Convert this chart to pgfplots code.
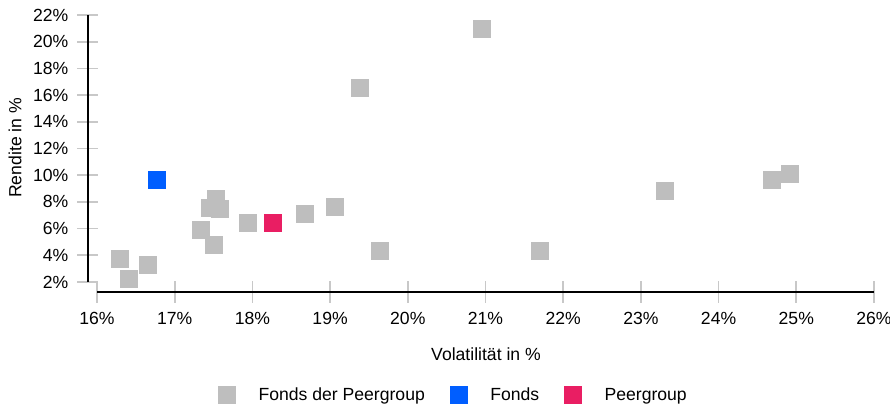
\documentclass[border=0pt]{standalone}
\usepackage{fontspec}
\setmainfont{Liberation Sans}
\usepackage{pgfplots}
\pgfplotsset{compat=1.18}
\definecolor{gfill}{RGB}{190,190,190}
\definecolor{fblue}{RGB}{0,94,255}
\definecolor{fpink}{RGB}{233,30,99}
\definecolor{tickgray}{RGB}{200,200,200}
\begin{document}
\fontsize{17.6bp}{21bp}\selectfont
\begin{tikzpicture}
\begin{axis}[
  scale only axis, width=786bp, height=277bp,
  xmin=15.884, xmax=26, ymin=1.251, ymax=22,
  clip=false,
  axis line style={draw=none},
  xtick={16,17,18,19,20,21,22,23,24,25,26},
  xticklabels={16\%,17\%,18\%,19\%,20\%,21\%,22\%,23\%,24\%,25\%,26\%},
  ytick={2,4,6,8,10,12,14,16,18,20,22},
  yticklabels={2\%,4\%,6\%,8\%,10\%,12\%,14\%,16\%,18\%,20\%,22\%},
  tick align=center, major tick length=21bp,
  tick pos=left,
  tick style={tickgray, line width=1.7bp},
  xticklabel style={inner sep=0pt, anchor=north, yshift=-10bp},
  yticklabel style={inner sep=0pt, anchor=east, xshift=-9bp},
  xlabel={Volatilität in \%}, ylabel={Rendite in \%},
  xlabel style={at={(axis description cs:0.5064,-0.2238)}, anchor=center},
  ylabel style={at={(axis description cs:-0.0929,0.52)}, anchor=center},
  legend style={draw=none, fill=none, at={(0.4637,-0.3700)}, anchor=center,
    inner sep=0pt, nodes={inner sep=0pt},
    /tikz/every odd column/.append style={column sep=23bp},
    /tikz/every even column/.append style={column sep=25bp}},
  legend columns=3, legend cell align=left,
]
\addlegendimage{legend image code/.code={\fill[gfill] (0bp,-7.5bp) rectangle (17bp,9.5bp);}}
\addlegendentry{Fonds der Peergroup}
\addlegendimage{legend image code/.code={\fill[fblue] (0bp,-7.5bp) rectangle (17bp,9.5bp);}}
\addlegendentry{Fonds}
\addlegendimage{legend image code/.code={\fill[fpink] (0bp,-7.5bp) rectangle (17bp,9.5bp);}}
\addlegendentry{Peergroup}

\addplot[forget plot, color=gfill, only marks, mark=square*, mark size=8.5bp, mark options={draw=none, fill=gfill, line width=0pt}] coordinates {
(16.302,3.70) (16.418,2.20) (16.650,3.25) (17.332,5.87) (17.512,4.75)
(17.448,7.52) (17.525,8.19) (17.577,7.45) (17.937,6.40) (18.683,7.07)
(19.057,7.60) (19.636,4.30) (21.695,4.30) (23.304,8.79) (24.681,9.62)
(24.925,10.07) (19.391,16.51) (20.961,20.93)
};
\addplot[forget plot, color=fblue, only marks, mark=square*, mark size=8.5bp, mark options={draw=none, fill=fblue, line width=0pt}] coordinates {(16.766,9.62)};
\addplot[forget plot, color=fpink, only marks, mark=square*, mark size=8.5bp, mark options={draw=none, fill=fpink, line width=0pt}] coordinates {(18.259,6.40)};

\draw[black, line width=1.4bp] (axis cs:15.884,2) -- (axis cs:15.884,22);
\draw[black, line width=1.4bp] (axis cs:16,1.251) -- (axis cs:26,1.251);
\coordinate (bbsw) at (rel axis cs:0,0);
\coordinate (bbne) at (rel axis cs:1,1);
\end{axis}
\pgfresetboundingbox
\path[use as bounding box] ([shift={(-88bp,-113bp)}]bbsw) rectangle ([shift={(16bp,15bp)}]bbne);
\end{tikzpicture}
\end{document}
